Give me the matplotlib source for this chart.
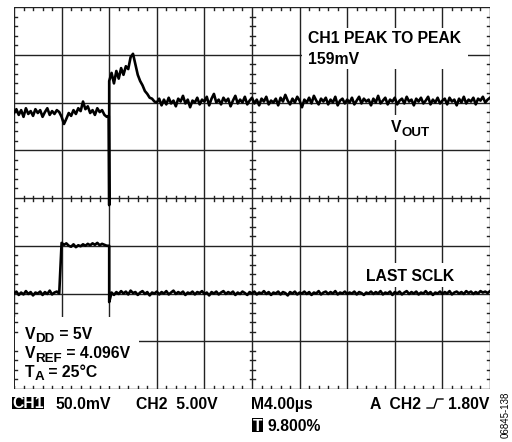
import numpy as np
import matplotlib
matplotlib.use("Agg")
import matplotlib.pyplot as plt
from matplotlib.patches import Rectangle

# scope screen: 10 x 8 divisions, values in divisions
# CH1 (VOUT), sampled every 0.05 div
vout_pre = [5.78, 5.86, 5.74, 5.84, 5.70, 5.88, 5.76, 5.82, 5.72, 5.86,
            5.78, 5.84, 5.70, 5.80, 5.88, 5.74, 5.82, 5.76, 5.84, 5.80,
            5.70, 5.55, 5.66, 5.78, 5.72, 5.84, 5.76, 5.88, 5.82, 6.02,
            5.86, 5.92, 5.78, 5.84, 5.74, 5.88, 5.80, 5.84, 5.74, 5.70]
vout_spike_t = [1.99, 2.0]
vout_spike = [5.72, 3.85]
vout_post = [6.45, 6.62, 6.40, 6.66, 6.50, 6.72, 6.58, 6.76, 6.70, 6.95,
             7.02, 6.80, 6.58, 6.45, 6.36, 6.24, 6.18, 6.10, 6.08, 6.02,
             6.00, 6.08, 5.94, 6.06, 5.96, 6.10, 5.98, 6.04, 5.92, 6.08,
             6.02, 6.14, 5.98, 6.06, 5.90, 6.04, 6.00, 6.10, 5.96, 6.06,
             6.02, 6.12, 5.94, 6.08, 6.18, 6.00, 6.06, 5.96, 6.10, 6.02,
             6.08, 5.92, 6.04, 6.14, 5.98, 6.06, 6.00, 6.12, 5.96, 6.04,
             6.10, 5.98, 6.06, 5.94, 6.08, 6.02, 6.12, 5.96, 6.04, 6.00,
             6.08, 5.94, 6.10, 6.02, 6.16, 6.04, 5.96, 6.08, 6.00, 6.12,
             6.04, 5.90, 6.06, 6.00, 6.10, 5.98, 6.14, 6.04, 5.96, 6.08,
             6.02, 6.10, 5.96, 6.06, 6.00, 6.12, 5.94, 6.04, 6.08, 5.98,
             6.06, 6.00, 6.10, 5.96, 6.04, 6.12, 5.98, 6.08, 6.02, 6.06,
             5.94, 6.08, 6.00, 6.14, 5.98, 6.04, 6.10, 5.96, 6.06, 6.02,
             6.10, 5.96, 6.04, 6.08, 5.98, 6.12, 6.02, 6.06, 5.94, 6.08,
             6.02, 6.10, 5.98, 6.04, 6.12, 5.96, 6.06, 6.00, 6.10, 5.98,
             6.04, 6.08, 5.96, 6.10, 6.02, 6.06, 5.94, 6.08, 6.00, 6.12,
             5.98, 6.06, 6.02, 6.10, 5.96, 6.08, 6.04, 6.12, 6.00, 6.06,
             6.10]

# CH2 (LAST SCLK)
sclk_low1 = [2.00, 2.04, 1.97, 2.02, 1.98, 2.05, 1.99, 2.03, 1.96, 2.02,
             2.00, 2.04, 1.97, 2.03, 1.99, 2.06, 1.98, 2.02, 2.04, 2.00]
sclk_high = [3.06, 3.02, 3.05, 3.00, 2.98, 3.03, 2.97, 3.01, 2.99, 3.03,
             3.00, 3.04, 3.01, 3.05, 3.02, 3.06, 3.01, 3.04, 3.02, 3.00]
sclk_fall_t = [2.0, 2.0]
sclk_fall = [3.00, 1.82]
sclk_low2 = [2.02, 1.97, 2.03, 1.99, 2.05, 2.00, 2.04, 1.98, 2.06, 2.01,
             2.03, 1.97, 2.02, 2.05, 1.99, 2.03, 1.96, 2.02, 2.00, 2.04,
             1.98, 2.03, 2.00, 2.05, 1.98, 2.02, 2.06, 1.99, 2.03, 2.00,
             2.04, 1.97, 2.02, 2.00, 2.04, 1.98, 2.03, 2.01, 2.05, 1.99,
             2.02, 1.96, 2.03, 2.00, 2.04, 1.98, 2.02, 2.05, 1.99, 2.03,
             2.00, 2.04, 1.97, 2.02, 1.99, 2.04, 2.01, 1.97, 2.03, 2.00,
             2.04, 1.98, 2.02, 2.00, 2.05, 1.99, 2.03, 1.97, 2.02, 2.00,
             2.04, 1.98, 2.03, 2.01, 1.96, 2.03, 2.00, 2.04, 1.98, 2.02,
             2.00, 2.04, 1.99, 2.03, 1.97, 2.02, 2.00, 2.05, 1.98, 2.02,
             2.04, 1.99, 2.03, 2.00, 2.05, 1.98, 2.02, 2.00, 2.04, 1.99,
             2.02, 2.00, 2.04, 1.98, 2.03, 2.01, 1.97, 2.02, 2.00, 2.04,
             1.99, 2.03, 2.00, 2.05, 1.98, 2.02, 2.00, 2.04, 1.97, 2.03,
             2.00, 2.04, 1.98, 2.02, 2.05, 1.99, 2.03, 2.00, 2.04, 1.98,
             2.02, 2.00, 2.05, 1.99, 2.03, 1.97, 2.02, 2.00, 2.04, 1.99,
             2.03, 2.00, 2.05, 1.98, 2.02, 2.04, 2.00, 2.03, 1.99, 2.05,
             2.01, 2.04, 1.99, 2.03, 2.00, 2.05, 2.02, 2.04, 2.01, 2.05]

W, H = 512, 442
plt.rcParams['font.family'] = ['Liberation Sans', 'DejaVu Sans']
plt.rcParams['font.weight'] = 'bold'


def P(x, y):
    # pixel (from top-left) -> figure fraction
    return x / W, 1 - y / H


fig = plt.figure(figsize=(W / 100, H / 100), dpi=100)
L, T, R, B = 14, 7, 490, 389
ax = fig.add_axes([L / W, 1 - B / H, (R - L) / W, (B - T) / H])
ax.set_xlim(0, 10)
ax.set_ylim(0, 8)
ax.axis('off')

gc = '#222222'
for i in range(11):
    ax.axvline(i, color=gc, lw=1.0, zorder=1)
for j in range(9):
    ax.axhline(j, color=gc, lw=1.0, zorder=1)

# minor ticks
dx = 10 / (R - L)
dy = 8 / (B - T)
for k in range(1, 50):
    if k % 5:
        x = k * 0.2
        ax.plot([x, x], [8 - 3 * dy, 8], color=gc, lw=1.0, zorder=3)
        ax.plot([x, x], [0, 3 * dy], color=gc, lw=1.0, zorder=3)
        ax.plot([x, x], [4 - 2.5 * dy, 4 + 2.5 * dy], color=gc, lw=1.0, zorder=3)
for k in range(1, 40):
    if k % 5:
        y = k * 0.2
        ax.plot([0, 3 * dx], [y, y], color=gc, lw=1.0, zorder=3)
        ax.plot([10 - 3 * dx, 10], [y, y], color=gc, lw=1.0, zorder=3)
        ax.plot([5 - 2.5 * dx, 5 + 2.5 * dx], [y, y], color=gc, lw=1.0, zorder=3)

# white label backgrounds
for (x0, y0, x1, y1) in [(302, 28, 468, 69), (386, 115, 436, 140),
                         (360, 263, 460, 287), (15, 317, 139, 386)]:
    fx0, fy1 = P(x0, y0)
    fx1, fy0 = P(x1, y1)
    ax.add_patch(Rectangle((fx0, fy0), fx1 - fx0, fy1 - fy0, transform=fig.transFigure,
                           facecolor='white', edgecolor='none', zorder=2, clip_on=False))

# traces
t_vout = np.concatenate([np.arange(len(vout_pre)) * 0.05, vout_spike_t,
                         2.0 + np.arange(len(vout_post)) * 0.05])
v_vout = np.concatenate([vout_pre, vout_spike, vout_post])
ax.plot(t_vout, v_vout, color='black', lw=1.9, zorder=4)

t_sclk = np.concatenate([np.arange(len(sclk_low1)) * 0.05,
                         1.0 + np.arange(len(sclk_high)) * 0.05, sclk_fall_t,
                         2.05 + np.arange(len(sclk_low2)) * 0.05])
v_sclk = np.concatenate([sclk_low1, sclk_high, sclk_fall, sclk_low2])
ax.plot(t_sclk, v_sclk, color='black', lw=1.9, zorder=4)

fs = 11.3
sub = 9.6
renderer = fig.canvas.get_renderer()


def txt(x, y, s, **kw):
    kw.setdefault('fontsize', fs)
    return fig.text(*P(x, y), s, va='baseline', fontweight='bold', zorder=5, **kw)


def chain(x, y, parts):
    # pieces of text side by side; (text, subscript?)
    for s, is_sub in parts:
        t = txt(x, y + (3.5 if is_sub else 0), s, fontsize=sub if is_sub else fs)
        x += t.get_window_extent(renderer).width


txt(308, 43, 'CH1 PEAK TO PEAK')
txt(308, 64, '159mV')
chain(391, 132, [('V', False), ('OUT', True)])
txt(366, 281, 'LAST SCLK')
chain(25, 339, [('V', False), ('DD', True), (' = 5V', False)])
chain(25, 358, [('V', False), ('REF', True), (' = 4.096V', False)])
chain(25, 377, [('T', False), ('A', True), (' = 25°C', False)])

# bottom status line
for (x0, y0, x1, y1) in [(12, 397, 44, 409), (252, 418, 263, 432)]:
    fx0, fy1 = P(x0, y0)
    fx1, fy0 = P(x1, y1)
    fig.patches.append(Rectangle((fx0, fy0), fx1 - fx0, fy1 - fy0, transform=fig.transFigure,
                                 facecolor='black', edgecolor='none'))
fig.text(*P(28, 408.5), 'CH1', color='white', ha='center', va='baseline', fontsize=fs, fontweight='bold')
fig.text(*P(257.5, 431), 'T', color='white', ha='center', va='baseline', fontsize=fs, fontweight='bold')
txt(55, 409, '50.0mV')
txt(136, 409, 'CH2  5.00V')
txt(251, 409, 'M4.00µs')
txt(268, 431, '9.800%')
txt(370, 409, 'A  CH2')
txt(489, 409, '1.80V', ha='right')
# trigger edge symbol
xs = [427, 434, 437, 443]
ys = [408, 408, 399, 399]
fig.add_artist(plt.Line2D([x / W for x in xs], [1 - y / H for y in ys], color='black', lw=1.0,
                          transform=fig.transFigure))

fig.text(*P(506, 392), '06845-138', rotation=90, ha='center', va='top', fontsize=7,
         fontweight='normal')

fig.savefig('out.png', dpi=100)
